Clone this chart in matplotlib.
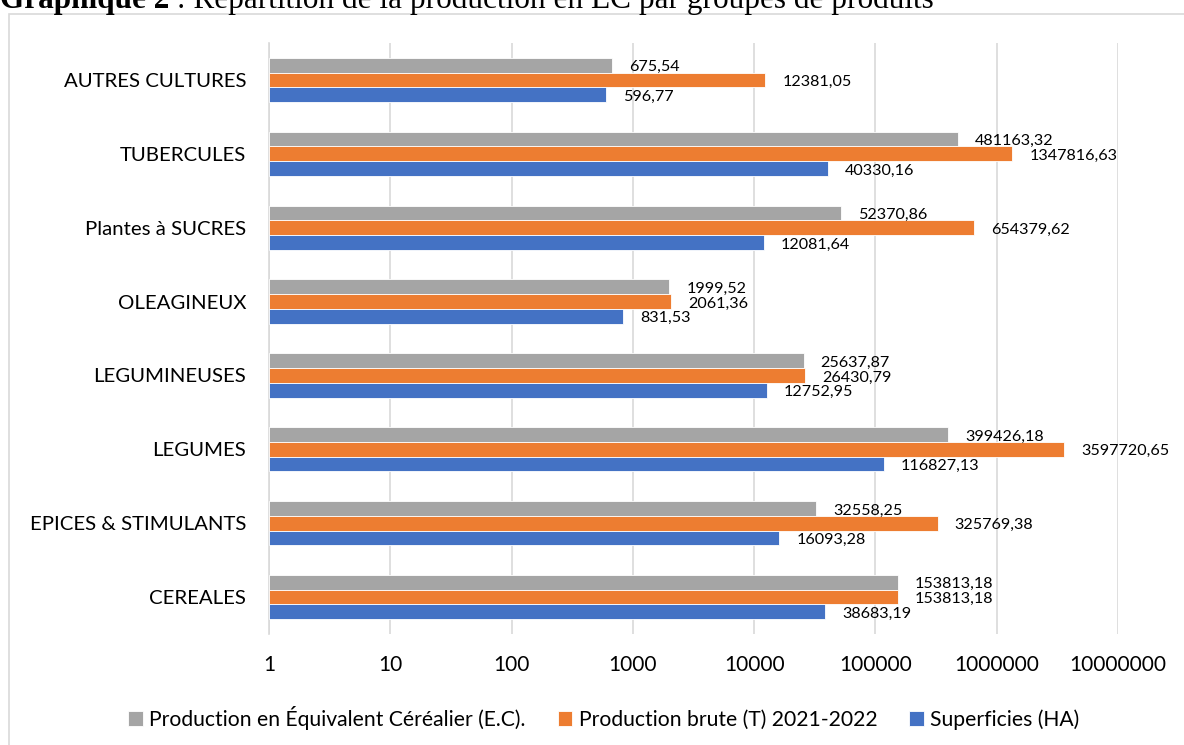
import matplotlib
matplotlib.use("Agg")
import matplotlib.pyplot as plt
from matplotlib.patches import Rectangle
import numpy as np

categories = ["CEREALES", "EPICES & STIMULANTS", "LEGUMES", "LEGUMINEUSES",
              "OLEAGINEUX", "Plantes à SUCRES", "TUBERCULES", "AUTRES CULTURES"]
superficies = [38683.19, 16093.28, 116827.13, 12752.95, 831.53, 12081.64, 40330.16, 596.77]
prod_brute = [153813.18, 325769.38, 3597720.65, 26430.79, 2061.36, 654379.62, 1347816.63, 12381.05]
prod_ec = [153813.18, 32558.25, 399426.18, 25637.87, 1999.52, 52370.86, 481163.32, 675.54]
xticks = [1, 10, 100, 1000, 10000, 100000, 1000000, 10000000]
xtick_labels = ["1", "10", "100", "1000", "10000", "100000", "1000000", "10000000"]
series_names = ["Production en Équivalent Céréalier (E.C).",
                "Production brute (T) 2021-2022", "Superficies (HA)"]

FONT = ["Lato", "DejaVu Sans"]
plt.rcParams['font.family'] = FONT

W, H = 1184, 745
fig = plt.figure(figsize=(W / 100, H / 100), dpi=100)

# outer chart border
fig.patches.append(Rectangle((9 / W, -0.01), 1.0, 1 - 14 / H + 0.01, transform=fig.transFigure,
                             fill=False, edgecolor="#D9D9D9", linewidth=1.2))

# title (partly cut at top, as in the source)
t1 = fig.text(0.0, 1 - 8 / H, "Graphique 2", fontfamily="Liberation Serif", fontweight="bold",
              fontsize=22.5, va="baseline", ha="left")
fig.canvas.draw()
bb = t1.get_window_extent()
fig.text(bb.x1 / W, 1 - 8 / H, " : Répartition de la production en EC par groupes de produits",
         fontfamily="Liberation Serif", fontsize=22.5, va="baseline", ha="left")

ax = fig.add_axes([269 / W, 1 - 634 / H, (1118 - 269) / W, (634 - 43) / H])
ax.set_xscale("log")
ax.set_xlim(1, 1e7)
ax.set_ylim(-0.5, len(categories) - 0.5)

y = np.arange(len(categories))
h = 0.2
colors = {"ec": "#A5A5A5", "brute": "#ED7D31", "sup": "#4472C4"}
series = [(prod_ec, y + h, colors["ec"], series_names[0]),
          (prod_brute, y, colors["brute"], series_names[1]),
          (superficies, y - h, colors["sup"], series_names[2])]

for vals, ypos, col, name in series:
    ax.barh(ypos, np.array(vals) - 1, left=1, height=h, color=col, edgecolor="white",
            linewidth=0.6, label=name, zorder=3)
    for v, yy in zip(vals, ypos):
        ax.annotate(f"{v:.2f}".replace(".", ","), xy=(v, yy), xytext=(17, -2),
                    textcoords="offset pixels", va="center", ha="left",
                    fontsize=11.6, color="#000000", zorder=4)

ax.set_xticks(xticks)
ax.set_xticklabels(xtick_labels)
ax.xaxis.set_minor_locator(matplotlib.ticker.NullLocator())
ax.set_yticks(y)
ax.set_yticklabels(categories)
ax.tick_params(axis="both", length=0)
ax.tick_params(axis="x", pad=15, labelsize=15)
ax.tick_params(axis="y", pad=16.5, labelsize=14.7)
ax.grid(axis="x", color="#D9D9D9", linewidth=1.2, zorder=0)
for s in ["top", "right", "bottom"]:
    ax.spines[s].set_visible(False)
ax.spines["left"].set_color("#D9D9D9")
ax.spines["left"].set_linewidth(1.2)

handles, labels = ax.get_legend_handles_labels()
leg = fig.legend(handles, labels, loc="center", bbox_to_anchor=(0.51, 1 - 718 / H), ncol=3,
                 frameon=False, fontsize=15.2, handlelength=0.7, handleheight=0.7,
                 handletextpad=0.3, columnspacing=1.5)

fig.savefig("out.png", dpi=100)
